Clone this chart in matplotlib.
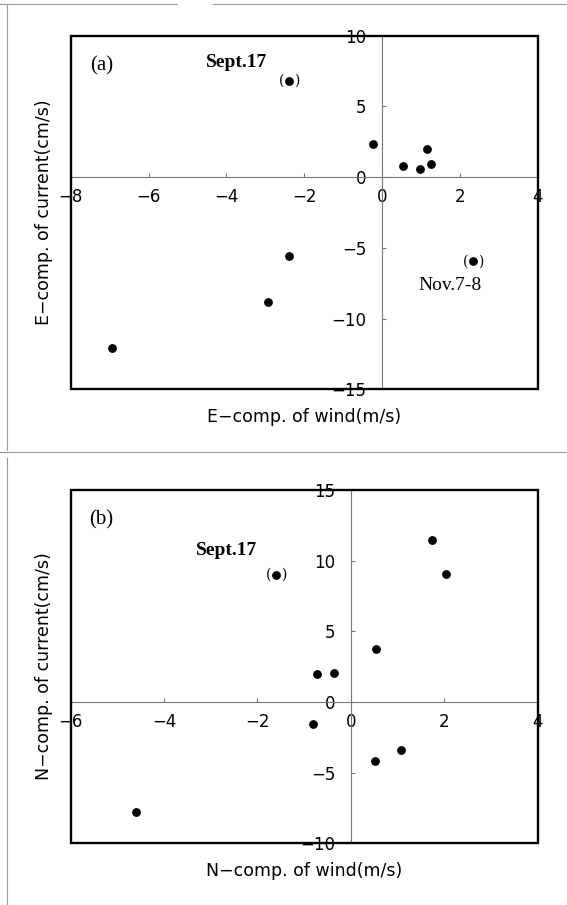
import numpy as np
import matplotlib
matplotlib.use("Agg")
import matplotlib.pyplot as plt
from matplotlib.patches import Rectangle
from matplotlib.lines import Line2D

plt.rcParams.update({'font.size': 12, 'font.family': 'DejaVu Sans'})

# panel (a): east components
wind_e = [-0.24, 0.53, 0.98, 1.15, 1.27, -2.38, -2.92, -6.94]
curr_e = [2.37, 0.78, 0.55, 1.99, 0.95, -5.6, -8.83, -12.05]
# bracketed (excluded) days in panel (a)
wind_e_ex = [-2.38, 2.34]
curr_e_ex = [6.81, -5.95]

# panel (b): north components
wind_n = [1.74, 2.04, 0.545, -0.73, -0.36, -0.81, 1.07, 0.51, -4.60]
curr_n = [11.44, 9.06, 3.74, 1.95, 2.02, -1.54, -3.43, -4.2, -7.79]
wind_n_ex = [-1.61]
curr_n_ex = [8.99]

e_xticks = [-8, -6, -4, -2, 0, 2, 4]
e_yticks = [10, 5, 0, -5, -10, -15]
n_xticks = [-6, -4, -2, 0, 2, 4]
n_yticks = [15, 10, 5, 0, -5, -10]

fig = plt.figure(figsize=(5.67, 9.05), dpi=100)
ax_a = fig.add_axes([0.1247, 0.5698, 0.8236, 0.3907])
ax_b = fig.add_axes([0.1247, 0.0682, 0.8236, 0.3904])


# one scatter panel with axes crossing at the origin
def panel(ax, x, y, xex, yex, xt, yt, xlab, ylab):
    ax.scatter(x, y, s=28, c='black', zorder=3)
    ax.scatter(xex, yex, s=28, c='black', zorder=3)
    for px, py in zip(xex, yex):
        ax.annotate('(', (px, py), xytext=(-5.5, 0), textcoords='offset points',
                    ha='center', va='center', fontsize=10, family='DejaVu Serif')
        ax.annotate(')', (px, py), xytext=(5.5, 0), textcoords='offset points',
                    ha='center', va='center', fontsize=10, family='DejaVu Serif')
    ax.set_xlim(xt[0], xt[-1])
    ax.set_ylim(min(yt), max(yt))
    ax.set_xticks(xt)
    ax.set_yticks(yt)
    for s in ['left', 'bottom']:
        ax.spines[s].set_position(('data', 0))
        ax.spines[s].set_color('#777777')
        ax.spines[s].set_linewidth(0.8)
    for s in ['top', 'right']:
        ax.spines[s].set_visible(False)
    ax.add_patch(Rectangle((0, 0), 1, 1, transform=ax.transAxes, fill=False,
                           lw=1.7, ec='black', clip_on=False, zorder=5))
    ax.tick_params(axis='x', direction='in', length=3, pad=8, color='#777777')
    ax.tick_params(axis='y', direction='in', length=3, pad=11, color='#777777')
    ax.set_xlabel(xlab, fontsize=12.5)
    ax.set_ylabel(ylab, fontsize=12.5)
    ax.xaxis.set_label_coords(0.5, -0.078)
    ax.xaxis.label.set_va('center')
    ax.yaxis.set_label_coords(-0.058, 0.5)
    ax.yaxis.label.set_va('center')


panel(ax_a, wind_e, curr_e, wind_e_ex, curr_e_ex, e_xticks, e_yticks,
      'E\u2212comp. of wind(m/s)', 'E\u2212comp. of current(cm/s)')
panel(ax_b, wind_n, curr_n, wind_n_ex, curr_n_ex, n_xticks, n_yticks,
      'N\u2212comp. of wind(m/s)', 'N\u2212comp. of current(cm/s)')

serif = 'Liberation Serif'
ax_a.text(-7.21, 7.87, '(a)', ha='center', va='center', fontsize=15, family=serif)
ax_a.text(-3.73, 8.11, 'Sept.17', ha='center', va='center', fontsize=14,
          family=serif, weight='bold')
ax_a.text(1.75, -7.67, 'Nov.7-8', ha='center', va='center', fontsize=14, family=serif)
ax_b.text(-5.34, 12.86, '(b)', ha='center', va='center', fontsize=15, family=serif)
ax_b.text(-2.66, 10.69, 'Sept.17', ha='center', va='center', fontsize=14,
          family=serif, weight='bold')

# faint frame lines of the scanned page
H = 905.0
W = 567.0
for xs, ys in [([0, 177], [4, 4]), ([213, 567], [4, 4]),
               ([7, 7], [5, 450]), ([0, 567], [452, 452]), ([7, 7], [458, 905])]:
    fig.add_artist(Line2D([v / W for v in xs], [1 - v / H for v in ys],
                          color='#999999', lw=0.8))

plt.savefig('out.png', dpi=100)
plt.close()
